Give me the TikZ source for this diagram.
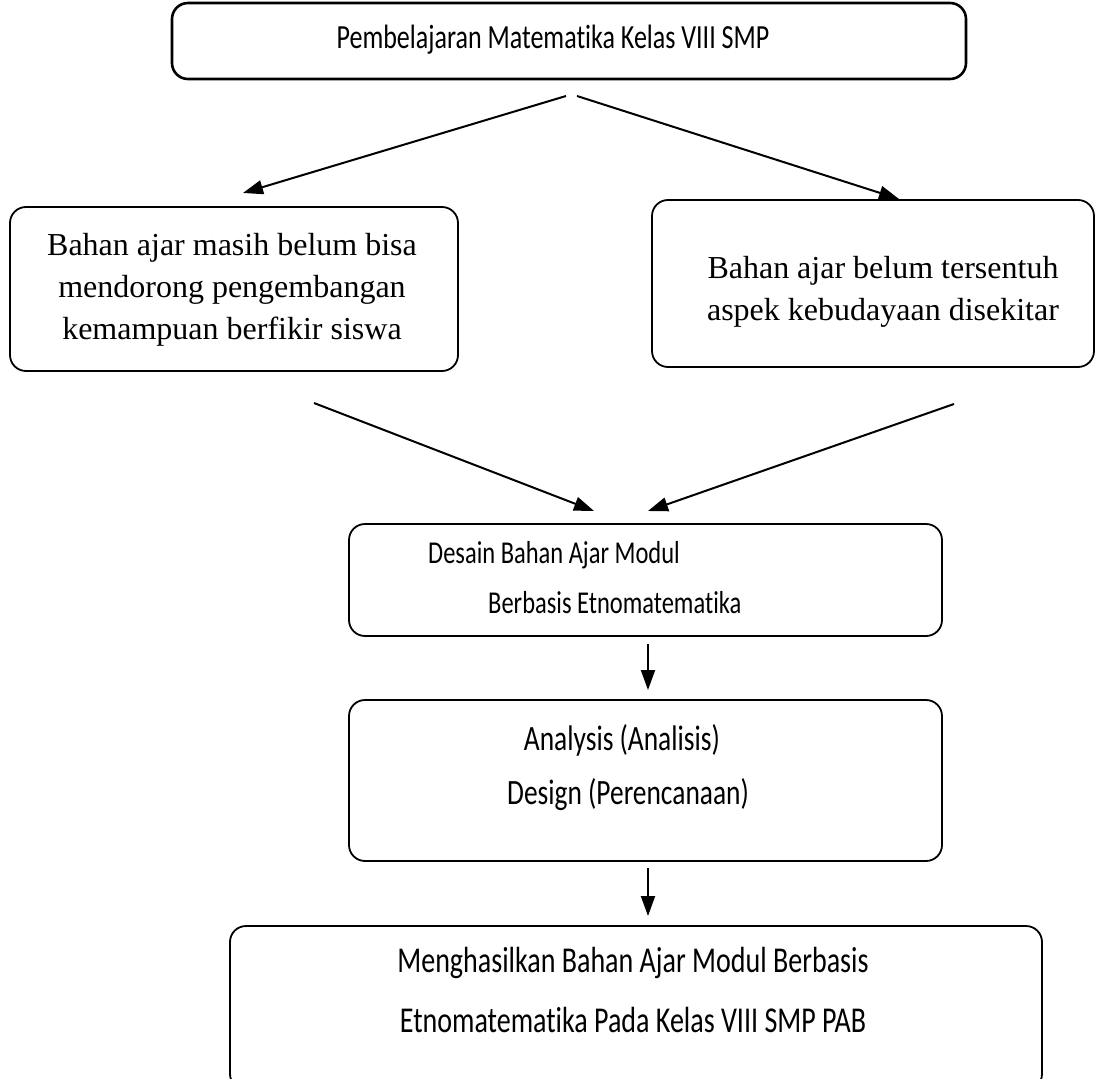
\documentclass[tikz,border=0pt]{standalone}
\usepackage{fontspec}
\setmainfont{Liberation Serif}
\newfontfamily\calfont[FakeStretch=0.77,Ligatures=NoCommon]{Carlito}
\usetikzlibrary{arrows.meta}
\begin{document}
\begin{tikzpicture}[x=1pt,y=-1pt,
  box/.style={draw, rounded corners=16pt, line width=1.8pt, inner sep=0pt, outer sep=0pt},
  serif/.style={font=\fontsize{32}{42}\selectfont, align=center, inner sep=0pt},
  sans/.style={font=\calfont\fontsize{#1}{#1}\selectfont, inner sep=0pt},
  arr/.style={line width=2pt, -{Triangle[length=20pt,width=14pt]}}]
\useasboundingbox (0,0) rectangle (1096,1079);
% boxes
\node[box, line width=2.6pt, minimum width=794pt, minimum height=76pt] (top) at (569,41) {};
\node[box, minimum width=448pt, minimum height=164pt] (left) at (234,289) {};
\node[box, minimum width=442pt, minimum height=167pt] (right) at (873,283.5) {};
\node[box, minimum width=593pt, minimum height=112pt] (mid) at (645.5,580) {};
\node[box, minimum width=593pt, minimum height=161pt] (ana) at (645.5,780.5) {};
\node[box, minimum width=812pt, minimum height=164pt] (res) at (636,1008) {};
% texts
\node[sans=33.8] (ttop) at (553,40) {Pembelajaran Matematika Kelas VIII SMP};
\node[serif] (tleft) at (232,290) {Bahan ajar masih belum bisa\\mendorong pengembangan\\kemampuan berfikir siswa};
\node[serif] (tright) at (883,292) {Bahan ajar belum tersentuh\\aspek kebudayaan disekitar};
\node[sans=31.8, anchor=west] (tmid1) at (428,555) {Desain Bahan Ajar Modul};
\node[sans=31.8, anchor=west] (tmid2) at (488,603) {Berbasis Etnomatematika};
\node[sans=35.6] (tana1) at (622,740) {Analysis (Analisis)};
\node[sans=35.6] (tana2) at (628,795) {Design (Perencanaan)};
\node[sans=36.4] (tres1) at (633,963) {Menghasilkan Bahan Ajar Modul Berbasis};
\node[sans=36.4] (tres2) at (633,1020) {Etnomatematika Pada Kelas VIII SMP PAB};
% connector ends
\coordinate (s1) at (566,96);  \coordinate (e1) at (243,193);
\coordinate (s2) at (577,96);  \coordinate (e2) at (899,199);
\coordinate (s3) at (314,403); \coordinate (e3) at (594,511);
\coordinate (s4) at (954,404); \coordinate (e4) at (648,511);
\coordinate (s5) at (648,644); \coordinate (e5) at (648,690);
\coordinate (s6) at (648,868); \coordinate (e6) at (648,916);
\draw[arr] (s1) -- (e1);
\draw[arr] (s2) -- (e2);
\draw[arr] (s3) -- (e3);
\draw[arr] (s4) -- (e4);
\draw[arr] (s5) -- (e5);
\draw[arr] (s6) -- (e6);
\end{tikzpicture}
\end{document}
